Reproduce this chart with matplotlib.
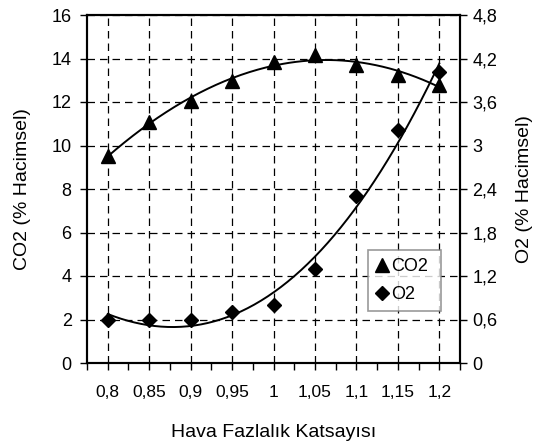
#hava fazlalik katsayisina gore CO2 ve O2 degisimi, iki eksenli grafik
import numpy as np
import matplotlib.pyplot as plt
from matplotlib.ticker import FixedLocator

plt.rcParams['font.family'] = ['Liberation Sans', 'DejaVu Sans']

#olcum noktalari
lam = [0.80, 0.85, 0.90, 0.95, 1.00, 1.05, 1.10, 1.15, 1.20]
co2 = [9.5, 11.1, 12.05, 12.95, 13.85, 14.15, 13.7, 13.25, 12.8]
o2 = [0.60, 0.60, 0.60, 0.71, 0.80, 1.29, 2.30, 3.21, 4.01]

x_labels = ['0,8', '0,85', '0,9', '0,95', '1', '1,05', '1,1', '1,15', '1,2']
left_ticks = [0, 2, 4, 6, 8, 10, 12, 14, 16]
right_ticks = [0, 0.6, 1.2, 1.8, 2.4, 3.0, 3.6, 4.2, 4.8]
right_labels = ['0', '0,6', '1,2', '1,8', '2,4', '3', '3,6', '4,2', '4,8']

fig = plt.figure(figsize=(5.39, 4.45), dpi=100)
fig.subplots_adjust(left=87/539, right=460/539, top=1-15/445, bottom=1-363/445)
ax = fig.add_subplot(111)
ax2 = ax.twinx()

#egilim cizgileri (3. derece polinom)
xs = np.linspace(0.8, 1.2, 200)
ax.plot(xs, np.polyval(np.polyfit(lam, co2, 3), xs), color='black', lw=1.4, zorder=3)
ax2.plot(xs, np.polyval(np.polyfit(lam, o2, 3), xs), color='black', lw=1.4, zorder=3)

h1, = ax.plot(lam, co2, ls='none', marker='^', ms=10, color='black', label='CO2', zorder=4)
h2, = ax2.plot(lam, o2, ls='none', marker='D', ms=7, color='black', label='O2', zorder=4)

ax.set_xlim(0.775, 1.225)
ax.set_ylim(0, 16)
ax2.set_ylim(0, 4.8)

ax.set_xticks(lam)
ax.set_xticklabels(x_labels, fontsize=12.5)
ax.xaxis.set_minor_locator(FixedLocator(np.arange(0.775, 1.23, 0.05)))
ax.set_yticks(left_ticks)
ax.set_yticklabels([str(v) for v in left_ticks], fontsize=13)
ax2.set_yticks(right_ticks)
ax2.set_yticklabels(right_labels, fontsize=13)

ax.tick_params(axis='x', which='both', direction='out', length=5, width=1, pad=11)
ax.tick_params(axis='y', direction='out', length=5, width=1, pad=6)
ax2.tick_params(axis='y', direction='out', length=5, width=1, pad=4)

ax.grid(True, which='major', color='black', ls=(0, (6, 4)), lw=0.9)
for a in (ax, ax2):
    for s in a.spines.values():
        s.set_linewidth(1.5)

ax.set_xlabel('Hava Fazlalık Katsayısı', fontsize=14)
ax.xaxis.set_label_coords(0.5, -0.2)
ax.xaxis.label.set_va('center')
ax.set_ylabel('CO2 (% Hacimsel)', fontsize=14)
ax.yaxis.set_label_coords(-0.172, 0.5)
ax.yaxis.label.set_va('center')
ax2.set_ylabel('O2 (% Hacimsel)', fontsize=14)
ax2.yaxis.set_label_coords(1.174, 0.5)
ax2.yaxis.label.set_va('center')

leg = ax2.legend(handles=[h1, h2], loc='lower left', bbox_to_anchor=(0.753, 0.149, 0.196, 0.184),
                 mode='expand', fancybox=False, fontsize=13, handlelength=0.7, handletextpad=0.15,
                 borderpad=0.45, labelspacing=0.6, borderaxespad=0)
leg.get_frame().set_edgecolor('#808080')
leg.get_frame().set_linewidth(1.2)

fig.savefig('out.png', dpi=100)
